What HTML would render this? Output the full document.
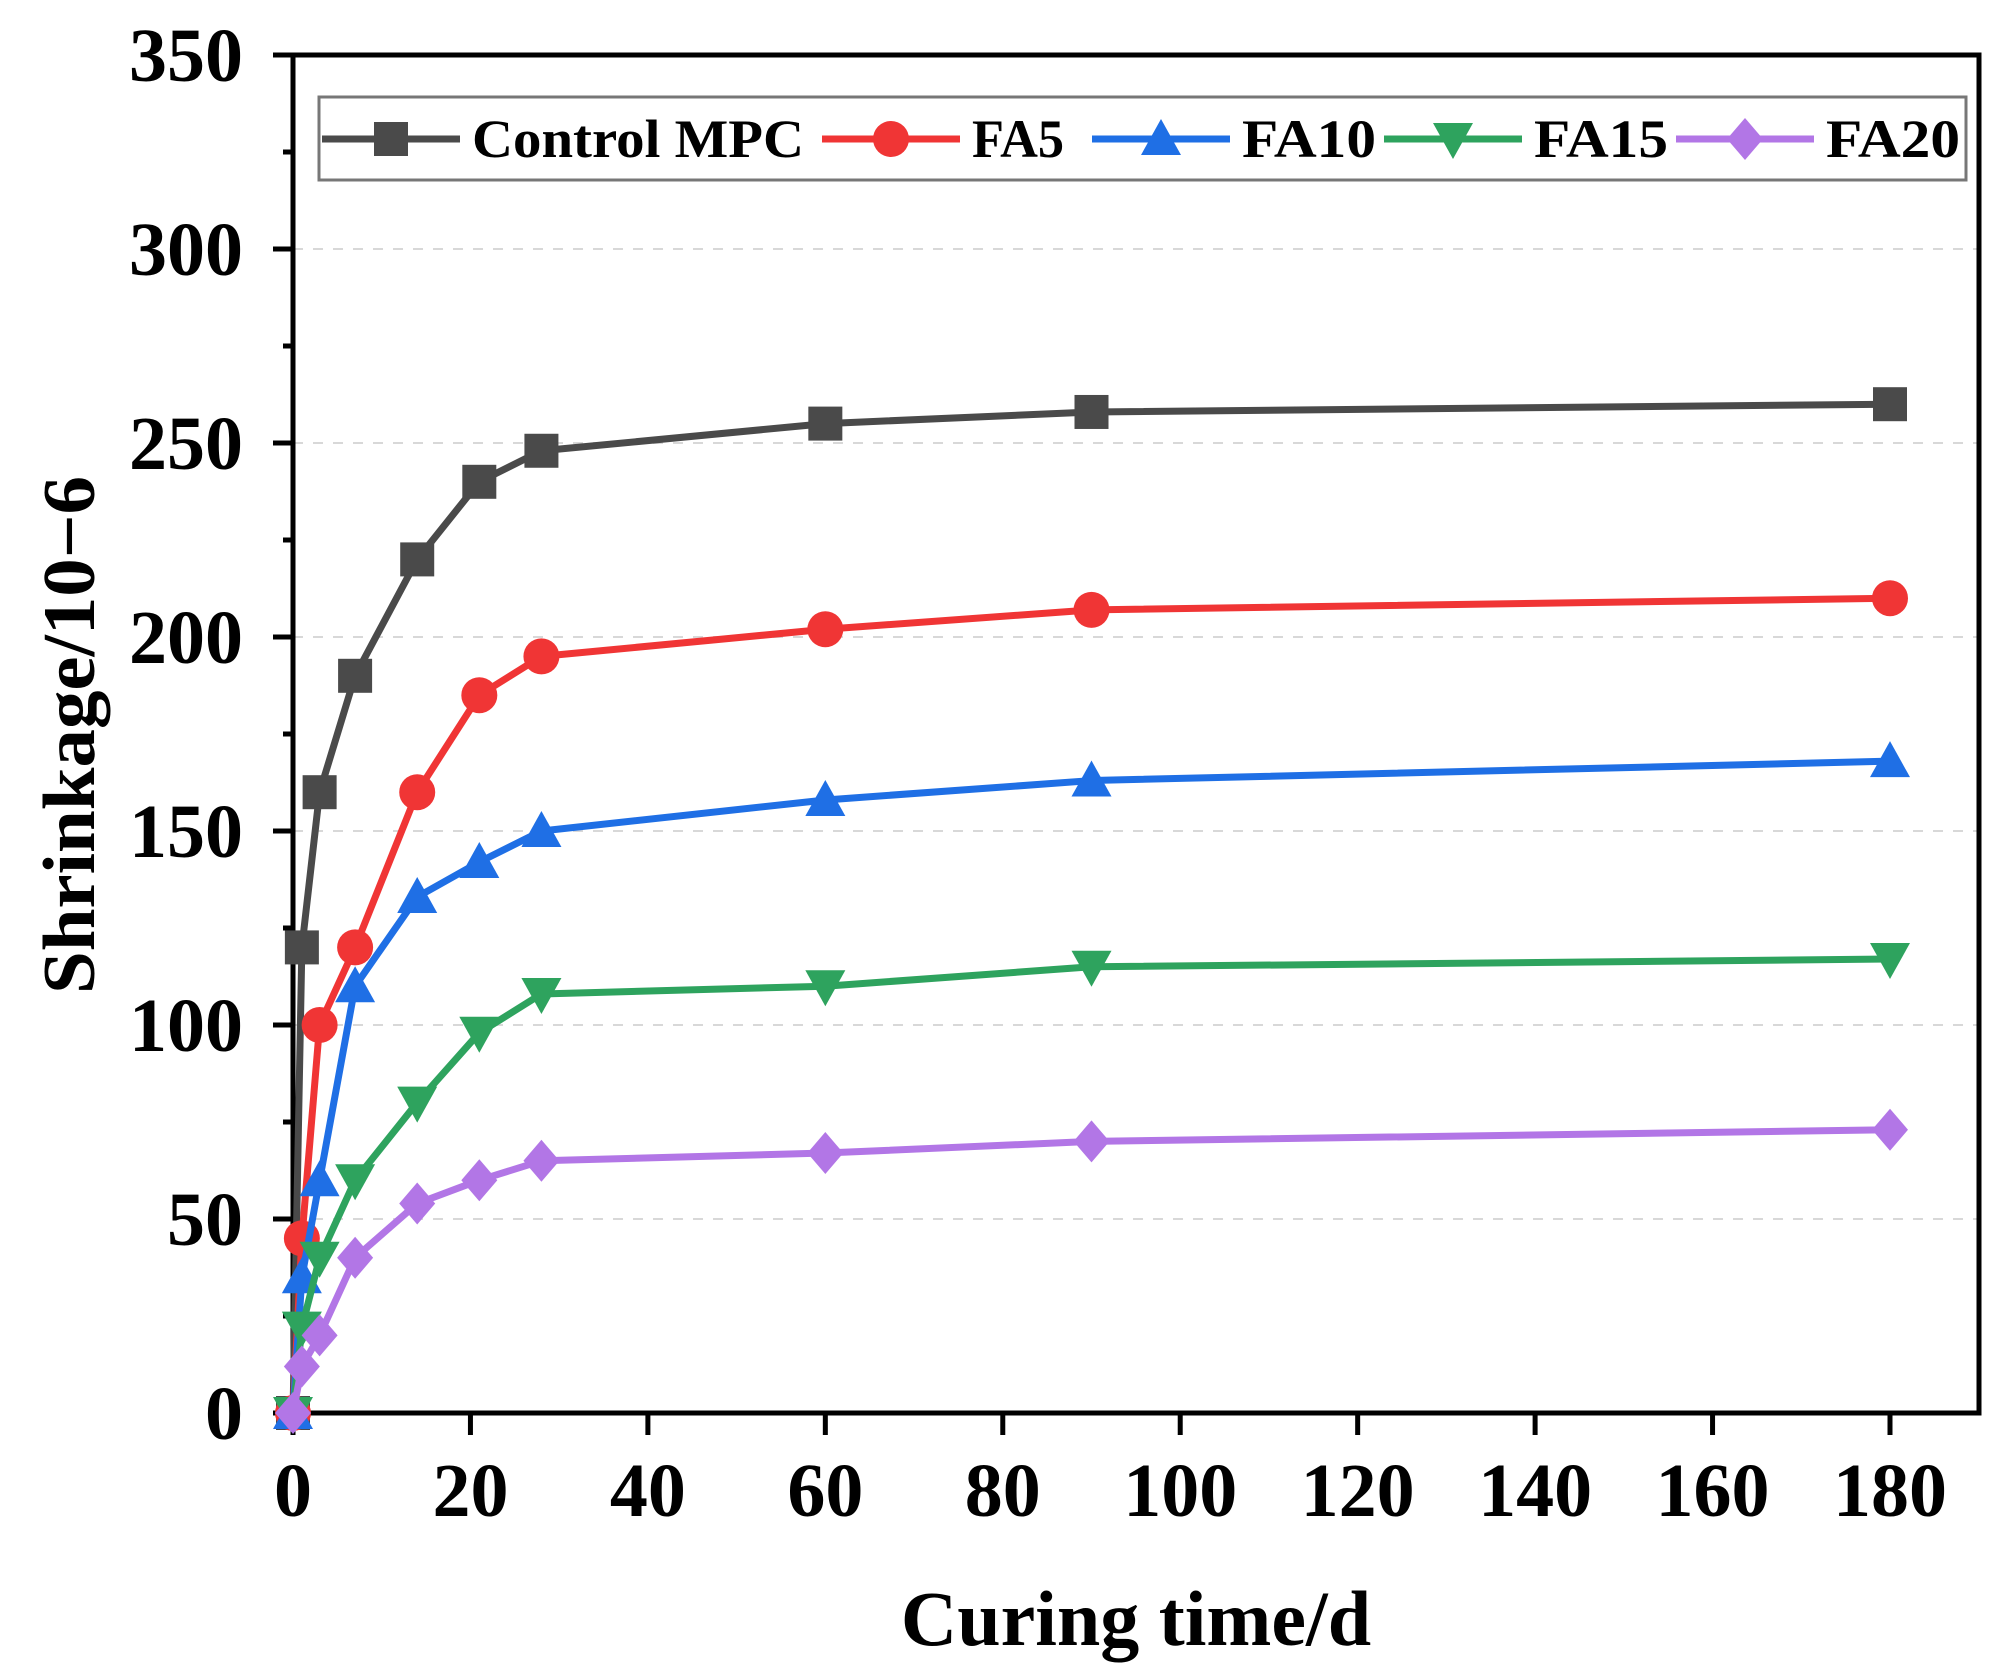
<!DOCTYPE html>
<html><head><meta charset="utf-8"><style>
html,body{margin:0;padding:0;background:#fff;}
svg{display:block;font-family:"Liberation Serif",serif;font-weight:bold;}
</style></head><body>
<svg id="chart" width="2005" height="1680" viewBox="0 0 2005 1680" xmlns="http://www.w3.org/2000/svg">
<g id="grid"></g>
<g id="axes"></g>
<g id="series"></g>
<g id="legend"></g>
<text x="1136" y="1645" font-size="78" text-anchor="middle">Curing time/d</text>
<text transform="translate(94,735) rotate(-90)" font-size="74" text-anchor="middle" textLength="518" lengthAdjust="spacingAndGlyphs">Shrinkage/10−6</text>
</svg>
<script>
const days = [0, 1, 3, 7, 14, 21, 28, 60, 90, 180];
const controlValues = [0, 120, 160, 190, 220, 240, 248, 255, 258, 260];
const fa5Values = [0, 45, 100, 120, 160, 185, 195, 202, 207, 210];
const fa10Values = [0, 35, 60, 110, 133, 142, 150, 158, 163, 168];
const fa15Values = [0, 22, 40, 60, 80, 98, 108, 110, 115, 117];
const fa20Values = [0, 12, 20, 40, 54, 60, 65, 67, 70, 73];
const seriesNames = ["Control MPC", "FA5", "FA10", "FA15", "FA20"];
const xTicks = [0, 20, 40, 60, 80, 100, 120, 140, 160, 180];
const yTicks = [0, 50, 100, 150, 200, 250, 300, 350];

const NS = "http://www.w3.org/2000/svg";
const L = 293, R = 1979, T = 55, B = 1413;
const X0 = 293, X180 = 1890;
function sx(v){ return X0 + (X180 - X0) * v / 180; }
function sy(v){ return B - (B - T) * v / 350; }
function mk(tag, attrs, parent){ const e = document.createElementNS(NS, tag); for (const k in attrs) e.setAttribute(k, attrs[k]); parent.appendChild(e); return e; }

const grid = document.getElementById('grid');
yTicks.forEach(v => {
  if (v === 0 || v === 350) return;
  const g = mk('line', {x1: L, x2: R, y1: sy(v), y2: sy(v), stroke: '#d8d8d8', 'stroke-width': 2, 'stroke-dasharray': '10 10'}, grid);
  
  
});

const axes = document.getElementById('axes');
const frame = mk('rect', {x: L, y: T, width: R - L, height: B - T, fill: 'none', stroke: '#000', 'stroke-width': 5}, axes);


yTicks.forEach(v => {
  const t = mk('line', {x1: L - 20, x2: L, y1: sy(v), y2: sy(v), stroke: '#000', 'stroke-width': 5}, axes);
  
  
  const lb = mk('text', {x: 243, y: sy(v) + 26, 'font-size': 76, 'text-anchor': 'end'}, axes);
  lb.textContent = v;
  
  
  if (v < 350) {
    const m = mk('line', {x1: L - 10, x2: L, y1: sy(v + 25), y2: sy(v + 25), stroke: '#000', 'stroke-width': 5}, axes);
    
    
  }
});
xTicks.forEach(v => {
  const t = mk('line', {x1: sx(v), x2: sx(v), y1: B, y2: B + 22, stroke: '#000', 'stroke-width': 5}, axes);
  
  
  const lb = mk('text', {x: sx(v), y: 1516, 'font-size': 76, 'text-anchor': 'middle'}, axes);
  lb.textContent = v;
  
  
});

const colors = ['#4a4a4a', '#f03535', '#1f6fe5', '#2ea35e', '#b276e6'];
const shapes = ['square', 'circle', 'up', 'down', 'diamond'];
function marker(shape, x, y, c, parent){
  const s = 17;
  let e;
  if (shape === 'square') e = mk('rect', {x: x - s, y: y - s, width: 2 * s, height: 2 * s, fill: c}, parent);
  else if (shape === 'circle') e = mk('circle', {cx: x, cy: y, r: s + 1, fill: c}, parent);
  else if (shape === 'up') e = mk('polygon', {points: `${x},${y - s - 3} ${x + s + 3},${y + s - 1} ${x - s - 3},${y + s - 1}`, fill: c}, parent);
  else if (shape === 'down') e = mk('polygon', {points: `${x},${y + s + 3} ${x + s + 3},${y - s + 1} ${x - s - 3},${y - s + 1}`, fill: c}, parent);
  else e = mk('polygon', {points: `${x},${y - s - 4} ${x + s + 1},${y} ${x},${y + s + 4} ${x - s - 1},${y}`, fill: c}, parent);
  return e;
}

const allValues = [controlValues, fa5Values, fa10Values, fa15Values, fa20Values];
const sg = document.getElementById('series');
allValues.forEach((vals, i) => {
  const g = mk('g', {}, sg);
  
  
  const pts = days.map((d, j) => sx(d) + ',' + sy(vals[j])).join(' ');
  const pl = mk('polyline', {points: pts, fill: 'none', stroke: colors[i], 'stroke-width': 7, 'stroke-linejoin': 'round'}, g);
  
  
  days.forEach((d, j) => {
    const m = marker(shapes[i], sx(d), sy(vals[j]), colors[i], g);
    
    
  });
});

const lg = document.getElementById('legend');
const box = mk('rect', {x: 319, y: 97, width: 1647, height: 83, fill: '#fff', stroke: '#777', 'stroke-width': 3}, lg);


const legX = [322, 822, 1092, 1384, 1676];
const legW = [332, 92, 134, 134, 134];
seriesNames.forEach((n, i) => {
  const g = mk('g', {}, lg);
  
  
  const x = legX[i];
  mk('line', {x1: x, x2: x + 138, y1: 139, y2: 139, stroke: colors[i], 'stroke-width': 7}, g);
  marker(shapes[i], x + 69, 139, colors[i], g);
  const t = mk('text', {x: x + 150, y: 157, 'font-size': 54, textLength: legW[i], lengthAdjust: 'spacingAndGlyphs'}, g);
  t.textContent = n;
});
</script>
</body></html>
